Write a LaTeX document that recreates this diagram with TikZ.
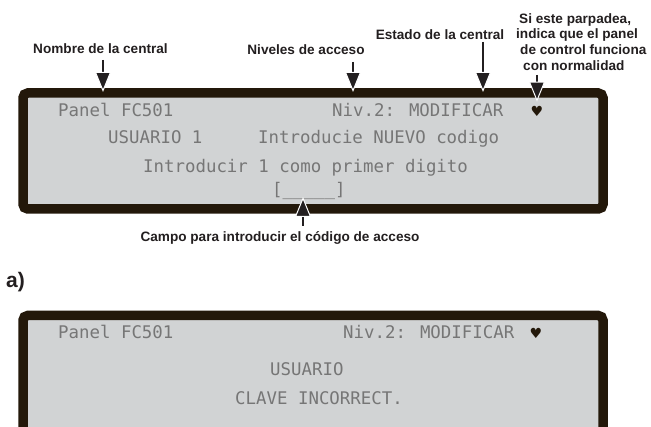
\documentclass[tikz,border=0pt]{standalone}
\usepackage{fontspec}
\newfontfamily\labfont{Liberation Sans}
\newfontfamily\hrtfont{DejaVu Sans}
\newfontfamily\lcdfont{DejaVu Sans Mono}
\usetikzlibrary{arrows.meta}
\definecolor{bord}{RGB}{35,24,10}
\definecolor{lcdbg}{RGB}{209,211,212}
\definecolor{lcdtxt}{RGB}{118,118,118}
\definecolor{labtxt}{RGB}{35,31,32}
\begin{document}
\begin{tikzpicture}[x=1pt,y=-1pt,
  panel/.style={draw=bord, fill=lcdbg, line width=9.5pt, rounded corners=4.75pt, inner sep=0pt},
  lcd/.style={inner sep=0pt, anchor=base west, text=lcdtxt, font=\fontsize{17.4}{20}\selectfont\lcdfont},
  lab/.style={inner sep=0pt, anchor=base, text=labtxt, font=\fontsize{13.6}{15.6}\selectfont\labfont\bfseries},
  hrt/.style={inner sep=0pt, text=bord, font=\fontsize{14}{14}\selectfont\hrtfont},
  arr/.style={draw=labtxt, line width=1.4pt, -{Triangle[width=16pt,length=20pt,color=white,fill=labtxt,line width=1pt]}}
]
\useasboundingbox (0,0) rectangle (651,427);
\clip (0,0) rectangle (651,427);
\fill[white] (0,0) rectangle (651,427);

% panels
\node[panel, minimum width=580pt, minimum height=116pt] (panelA) at (313,151) {};
\node[panel, minimum width=580pt, minimum height=150pt] (panelB) at (313,390.5) {};

% top panel text
\node[lcd] (pA) at (58,117) {Panel FC501};
\node[lcd] (nA) at (332,117) {Niv.2: MODIFICAR};
\node[hrt] (heartA) at (537,111) {♥};
\node[lcd] (uA) at (108,143.5) {USUARIO 1};
\node[lcd] (iA) at (258,143.5) {Introducie NUEVO codigo};
\node[lcd] (dA) at (143,173) {Introducir 1 como primer digito};
\node[lcd] (fA) at (272,196) {[\_\_\_\_\_]};

% bottom panel text
\node[lcd] (pB) at (58,339) {Panel FC501};
\node[lcd] (nB) at (343,339) {Niv.2: MODIFICAR};
\node[hrt] (heartB) at (536,333) {♥};
\node[lcd] (uB) at (270,376) {USUARIO};
\node[lcd] (cB) at (235,405) {CLAVE INCORRECT.};

% labels
\node[lab] (nombre) at (100.5,53.5) {Nombre de la central};
\node[lab] (niveles) at (306,54.5) {Niveles de acceso};
\node[lab] (estado) at (440,40) {Estado de la central};
\node[lab, anchor=north west, align=left] (parpadea) at (516,13.3)
  {\hspace*{3pt}Si este parpadea,\\indica que el panel\\\hspace*{4pt}de control funciona\\\hspace*{7pt}con normalidad};
\node[lab] (campo) at (280,242) {Campo para introducir el código de acceso};
\node[lab, anchor=base west, font=\fontsize{21}{24}\selectfont\labfont\bfseries] (alabel) at (6,288) {a)};

% arrow coordinates
\coordinate (sNombre) at (103,60);
\coordinate (tNombre) at (103,92);
\coordinate (sNiveles) at (353,62);
\coordinate (tNiveles) at (353,92);
\coordinate (sEstado) at (483,42);
\coordinate (tEstado) at (483,92);
\coordinate (sHeart) at (537,75);
\coordinate (sCampo) at (303,226);
\coordinate (tCampo) at (303,197);

\draw[arr] (sNombre) -- (tNombre);
\draw[arr] (sNiveles) -- (tNiveles);
\draw[arr] (sEstado) -- (tEstado);
\draw[arr, shorten >=4pt] (sHeart) -- (heartA.north);
\draw[arr] (sCampo) -- (tCampo);
\end{tikzpicture}
\end{document}
